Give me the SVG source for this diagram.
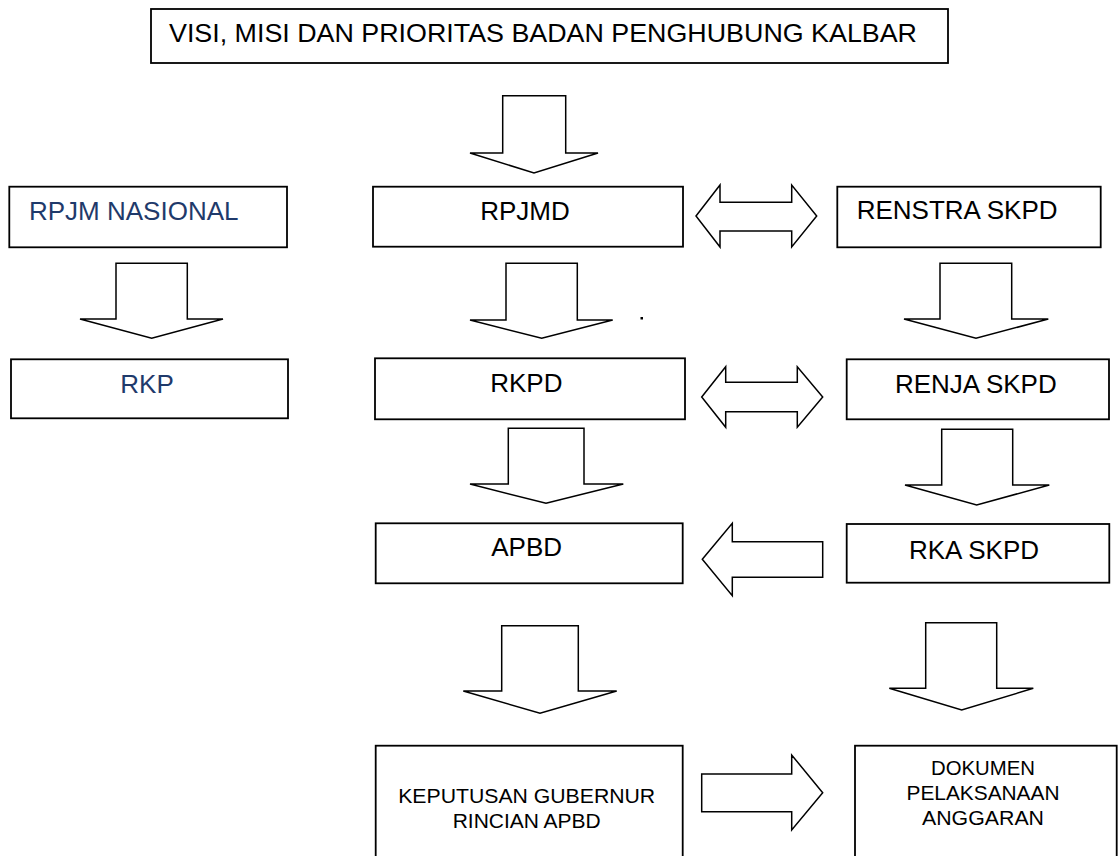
<svg xmlns="http://www.w3.org/2000/svg" width="1118" height="856" viewBox="0 0 1118 856">
<style>
.box{fill:#fff;stroke:#000;stroke-width:1.8}
.arr{fill:#fff;stroke:#000;stroke-width:1.5;stroke-linejoin:miter}
.t{font-family:"Liberation Sans",Arial,sans-serif;font-size:26px;fill:#000}
.blue{fill:#1f3a6b}
.s{font-family:"Liberation Sans",Arial,sans-serif;font-size:21px;fill:#000;text-anchor:middle}
.c{text-anchor:middle}
</style>
<rect width="1118" height="856" fill="#fff"/>
<g id="connectors">
<polygon class="arr" points="502.7,95.7 565.7,95.7 565.7,153 598,153 534,173 470,153 502.7,153"/>
<polygon class="arr" points="116,263.3 187.3,263.3 187.3,319 223,319 151.7,338.3 80,319 116,319"/>
<polygon class="arr" points="506,263.3 577.3,263.3 577.3,320 612.7,320 541.7,338.3 470,320 506,320"/>
<polygon class="arr" points="940,263.3 1011.7,263.3 1011.7,319 1048.3,319 976,338.3 904,319 940,319"/>
<polygon class="arr" points="508.3,428.3 584,428.3 584,484 623.3,484 546,503.3 470,484 508.3,484"/>
<polygon class="arr" points="941.7,429.3 1012.7,429.3 1012.7,485 1049.3,485 976.7,505 905,485 941.7,485"/>
<polygon class="arr" points="501.7,625.7 578.3,625.7 578.3,691 616.7,691 540,713.3 463.3,691 501.7,691"/>
<polygon class="arr" points="925.7,622.7 996.7,622.7 996.7,688.3 1033.3,688.3 961.7,710 889.3,688.3 925.7,688.3"/>
<polygon class="arr" points="696,216 720,185 720,202.3 791.7,202.3 791.7,185 816.7,216 791.7,247 791.7,231 720,231 720,247"/>
<polygon class="arr" points="701.7,397 725.7,366.7 725.7,382.3 797.3,382.3 797.3,366.7 822.7,397 797.3,427.3 797.3,411.7 725.7,411.7 725.7,427.3"/>
<polygon class="arr" points="702.3,559.3 732.3,523.3 732.3,541.7 822.7,541.7 822.7,577.3 732.3,577.3 732.3,595.7"/>
<polygon class="arr" points="701.7,774 791.7,774 791.7,755 822.7,792.7 791.7,830 791.7,811.7 701.7,811.7"/>
</g>
<g id="visi">
<rect class="box" x="151" y="9" width="797" height="54"/>
<text class="t" x="169" y="42" textLength="748" lengthAdjust="spacingAndGlyphs">VISI, MISI DAN PRIORITAS BADAN PENGHUBUNG KALBAR</text>
</g>
<g id="rpjm-nasional">
<rect class="box" x="9.3" y="186.7" width="277.7" height="60.6"/>
<text class="t blue" x="29" y="220">RPJM NASIONAL</text>
</g>
<g id="rkp">
<rect class="box" x="11" y="359.3" width="277" height="59"/>
<text class="t blue c" x="147" y="392.7">RKP</text>
</g>
<g id="rpjmd">
<rect class="box" x="373" y="186.7" width="310" height="60"/>
<text class="t c" x="525" y="220">RPJMD</text>
</g>
<g id="renstra">
<rect class="box" x="837.3" y="186.7" width="263.4" height="60.6"/>
<text class="t" x="856.7" y="219">RENSTRA SKPD</text>
</g>
<g id="rkpd">
<rect class="box" x="375" y="358.3" width="310" height="61"/>
<text class="t c" x="526.3" y="391.7">RKPD</text>
</g>
<g id="renja">
<rect class="box" x="846.7" y="359.3" width="262.3" height="60"/>
<text class="t c" x="975.8" y="392.7">RENJA SKPD</text>
</g>
<g id="apbd">
<rect class="box" x="375.7" y="523.3" width="307" height="60"/>
<text class="t c" x="526.7" y="556">APBD</text>
</g>
<g id="rka">
<rect class="box" x="846.7" y="524" width="262.6" height="58.7"/>
<text class="t c" x="974" y="559.3">RKA SKPD</text>
</g>
<g id="keputusan">
<rect class="box" x="375.7" y="745.7" width="307" height="130"/>
<text class="s" x="526.7" y="803" textLength="257" lengthAdjust="spacingAndGlyphs">KEPUTUSAN GUBERNUR</text>
<text class="s" x="526.7" y="828" textLength="148" lengthAdjust="spacingAndGlyphs">RINCIAN APBD</text>
</g>
<g id="dokumen">
<rect class="box" x="855" y="745.7" width="261.7" height="130"/>
<text class="s" x="983" y="775" textLength="104" lengthAdjust="spacingAndGlyphs">DOKUMEN</text>
<text class="s" x="983" y="800" textLength="153" lengthAdjust="spacingAndGlyphs">PELAKSANAAN</text>
<text class="s" x="983" y="825" textLength="122" lengthAdjust="spacingAndGlyphs">ANGGARAN</text>
</g>
<g id="dot">
<rect x="640.5" y="317" width="2.5" height="2.5" fill="#000"/>
</g>
</svg>
